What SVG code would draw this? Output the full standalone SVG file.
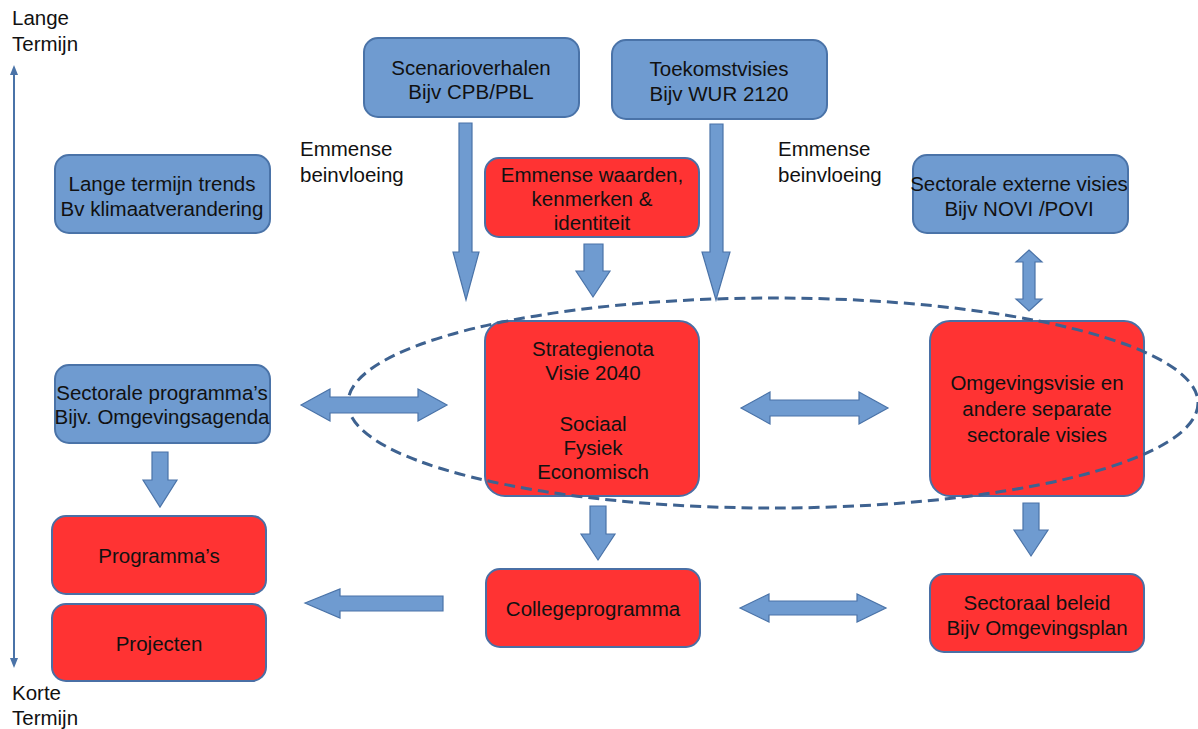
<svg xmlns="http://www.w3.org/2000/svg" width="1198" height="729" viewBox="0 0 1198 729">
<defs>
<style>
.blue{fill:#6F9BD0;stroke:#4A73A8;stroke-width:2}
.red{fill:#FF3333;stroke:#4A6FA5;stroke-width:2}
.arr{fill:#6F9BD0;stroke:#4A73A8;stroke-width:1.2}
text{font-family:"Liberation Sans",Arial,sans-serif;font-size:20.5px;fill:#111}
.c{text-anchor:middle}
</style>
<marker id="ah" viewBox="0 0 10 10" refX="5" refY="5" markerWidth="10" markerHeight="10" orient="auto-start-reverse" markerUnits="userSpaceOnUse"><path d="M0,1 L10,5 L0,9 z" fill="#4A73A8"/></marker>
</defs>
<rect width="1198" height="729" fill="#fff"/>

<g id="axis">
<line x1="14" y1="70" x2="14" y2="663" stroke="#4A73A8" stroke-width="2" marker-start="url(#ah)" marker-end="url(#ah)"/>
<text x="12" y="25">Lange</text><text x="12" y="51">Termijn</text>
<text x="12" y="700">Korte</text><text x="12" y="725">Termijn</text>
</g>

<g id="labels">
<text x="300" y="156">Emmense</text><text x="300" y="182">beinvloeing</text>
<text x="778" y="156">Emmense</text><text x="778" y="182">beinvloeing</text>
</g>

<g id="n-scenario"><rect class="blue" x="364" y="38" width="215" height="79" rx="14"/>
<text class="c" x="471" y="75">Scenarioverhalen</text><text class="c" x="471" y="99">Bijv CPB/PBL</text></g>
<g id="n-toekomst"><rect class="blue" x="612" y="40" width="215" height="79" rx="14"/>
<text class="c" x="719" y="76">Toekomstvisies</text><text class="c" x="719" y="101">Bijv WUR 2120</text></g>
<g id="n-trends"><rect class="blue" x="55" y="155" width="215" height="78" rx="14"/>
<text class="c" x="162" y="191">Lange termijn trends</text><text class="c" x="162" y="216">Bv klimaatverandering</text></g>
<g id="n-waarden"><rect class="red" x="485" y="158" width="214" height="79" rx="14"/>
<text class="c" x="592" y="182">Emmense waarden,</text><text class="c" x="592" y="206">kenmerken &amp;</text><text class="c" x="592" y="230">identiteit</text></g>
<g id="n-extern"><rect class="blue" x="913" y="155" width="215" height="78" rx="14"/>
<text class="c" x="1019" y="191">Sectorale externe visies</text><text class="c" x="1019" y="216">Bijv NOVI /POVI</text></g>

<g id="n-strategie"><rect class="red" x="485" y="321" width="214" height="175" rx="20"/>
<text class="c" x="593" y="356">Strategienota</text><text class="c" x="593" y="380">Visie 2040</text>
<text class="c" x="593" y="431">Sociaal</text><text class="c" x="593" y="455">Fysiek</text><text class="c" x="593" y="479">Economisch</text></g>
<g id="n-omgevingsvisie"><rect class="red" x="930" y="321" width="214" height="175" rx="20"/>
<text class="c" x="1037" y="390">Omgevingsvisie en</text><text class="c" x="1037" y="416">andere separate</text><text class="c" x="1037" y="442">sectorale visies</text></g>
<g id="n-sectprog"><rect class="blue" x="55" y="365" width="215" height="78" rx="14"/>
<text class="c" x="162" y="400">Sectorale programma’s</text><text class="c" x="162" y="424">Bijv. Omgevingsagenda</text></g>
<g id="n-programmas"><rect class="red" x="52" y="516" width="214" height="78" rx="14"/>
<text class="c" x="159" y="563">Programma’s</text></g>
<g id="n-projecten"><rect class="red" x="52" y="604" width="214" height="77" rx="14"/>
<text class="c" x="159" y="651">Projecten</text></g>
<g id="n-college"><rect class="red" x="486" y="569" width="214" height="78" rx="14"/>
<text class="c" x="593" y="616">Collegeprogramma</text></g>
<g id="n-sectoraal"><rect class="red" x="930" y="574" width="214" height="78" rx="14"/>
<text class="c" x="1037" y="610">Sectoraal beleid</text><text class="c" x="1037" y="635">Bijv Omgevingsplan</text></g>

<ellipse id="scope" cx="773" cy="403" rx="425" ry="105" fill="none" stroke="#3E6290" stroke-width="3" stroke-dasharray="11 6"/>

<g id="connectors">
<polygon class="arr" points="459,123 472,123 472,252 479,252 466,300 453,252 459,252"/>
<polygon class="arr" points="710,124 723,124 723,252 730,252 716,300 702,252 710,252"/>
<polygon class="arr" points="584,244 603,244 603,271 610,271 593,297 576,271 584,271"/>
<polygon class="arr" points="1029,250 1042,262 1035,262 1035,299 1042,299 1029,311 1016,299 1023,299 1023,262 1016,262"/>
<polygon class="arr" points="301,405 330,389 330,397 418,397 418,389 447,405 418,421 418,413 330,413 330,421"/>
<polygon class="arr" points="741,408 770,392 770,400 859,400 859,392 888,408 859,424 859,416 770,416 770,424"/>
<polygon class="arr" points="152,452 168,452 168,480 177,480 160,507 143,480 152,480"/>
<polygon class="arr" points="590,506 606,506 606,534 615,534 598,560 581,534 590,534"/>
<polygon class="arr" points="1023,503 1039,503 1039,530 1048,530 1031,556 1014,530 1023,530"/>
<polygon class="arr" points="305,603 340,589 340,596 443,596 443,611 340,611 340,618"/>
<polygon class="arr" points="740,608 769,594 769,601 857,601 857,594 886,608 857,622 857,615 769,615 769,622"/>
</g>
</svg>
